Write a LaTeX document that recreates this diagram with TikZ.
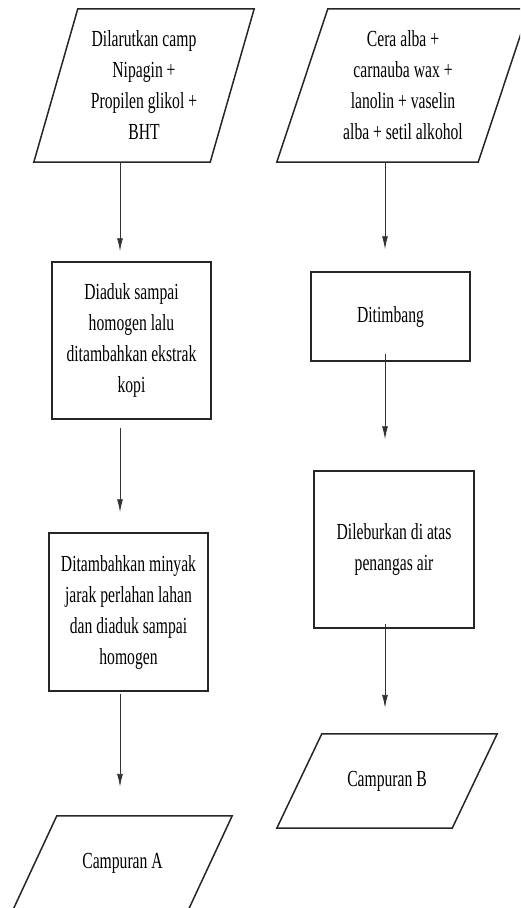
\documentclass[tikz,border=0pt]{standalone}
\usepackage{fontspec}
\setmainfont[FakeStretch=0.68]{Liberation Serif}
\usetikzlibrary{arrows.meta}
\tikzset{
  boxline/.style={draw=black!85, line width=1.5pt},
  stepbox/.style={boxline, rectangle, align=center, inner sep=0pt,
    font=\fontsize{23}{31}\selectfont},
  iobody/.style={rectangle, align=center, inner sep=0pt,
    font=\fontsize{23}{31}\selectfont},
  flow/.style={draw=black!80, line width=0.9pt, -{Latex[length=13pt,width=6pt]}},
}
% slanted frame round an input/output node
\newcommand{\paraframe}[2]{%
  \draw[boxline] ([xshift=-#2]#1.south west) -- ([xshift=-#2]#1.south east)
    -- ([xshift=#2]#1.north east) -- ([xshift=#2]#1.north west) -- cycle;}
\begin{document}
\begin{tikzpicture}[x=1pt,y=-1pt]
      \clip (0,0) rectangle (520,908);
      % Column axes
      \coordinate (lx) at (120,0);
      \coordinate (rx) at (385,0);
      % Left column
      \node[iobody, minimum width=176pt, minimum height=153pt] (nipagin) at (144,85.5)
        {Dilarutkan camp\\Nipagin +\\Propilen glikol +\\BHT};
      \node[stepbox, minimum width=159pt, minimum height=157pt] (aduk) at (131.5,340.5)
        {Diaduk sampai\\homogen lalu\\ditambahkan ekstrak\\kopi};
      \node[stepbox, minimum width=159pt, minimum height=158pt] (minyak) at (128.5,612)
        {Ditambahkan minyak\\jarak perlahan lahan\\dan diaduk sampai\\homogen};
      \node[iobody, minimum width=175pt, minimum height=94pt] (campA) at (122.5,863)
        {Campuran A};
      % Right column
      \node[iobody, minimum width=201pt, minimum height=153pt] (basis) at (403,85.5)
        {Cera alba +\\carnauba wax +\\lanolin + vaselin\\alba + setil alkohol};
      \node[stepbox, minimum width=159pt, minimum height=89pt] (timbang) at (390.5,316.5)
        {Ditimbang};
      \node[stepbox, minimum width=160pt, minimum height=157pt] (lebur) at (394,549.5)
        {Dileburkan di atas\\penangas air};
      \node[iobody, minimum width=175pt, minimum height=94pt] (campB) at (387,781)
        {Campuran B};
      % Input / output frames
      \paraframe{nipagin}{22pt}
      \paraframe{basis}{25.5pt}
      \paraframe{campA}{22pt}
      \paraframe{campB}{22.5pt}
      % Arrows, left
      \draw[flow, shorten >=10pt] (nipagin.south -| lx) -- (aduk.north -| lx);
      \draw[flow, shorten <=8pt, shorten >=20pt] (aduk.south -| lx) -- (minyak.north -| lx);
      \draw[flow, shorten <=2pt, shorten >=29pt] (minyak.south -| lx) -- (campA.north -| lx);
      % Arrows, right
      \draw[flow, shorten >=22pt] (basis.south -| rx) -- (timbang.north -| rx);
      \draw[flow, shorten <=-8pt, shorten >=31pt] (timbang.south -| rx) -- (lebur.north -| rx);
      \draw[flow, shorten <=-5pt, shorten >=26pt] (lebur.south -| rx) -- (campB.north -| rx);
\end{tikzpicture}
\end{document}
